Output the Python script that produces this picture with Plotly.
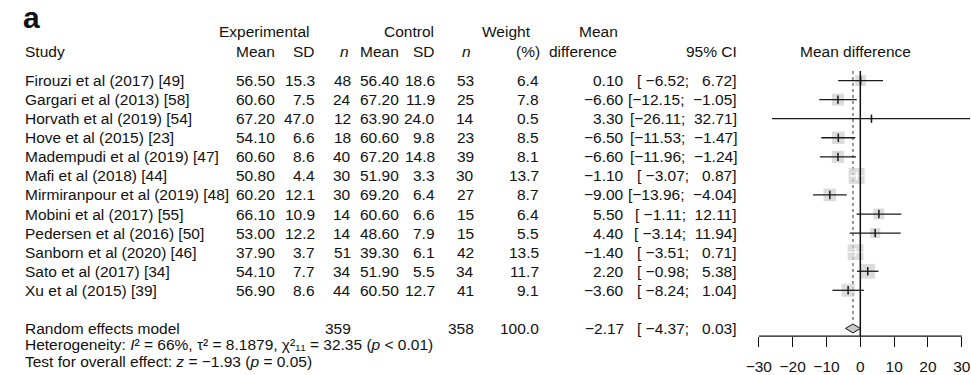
import math
import plotly.graph_objects as go

# ---- study data -----------------------------------------------------------
studies = [
    "Firouzi et al (2017) [49]", "Gargari et al (2013) [58]", "Horvath et al (2019) [54]",
    "Hove et al (2015) [23]", "Madempudi et al (2019) [47]", "Mafi et al (2018) [44]",
    "Mirmiranpour et al (2019) [48]", "Mobini et al (2017) [55]", "Pedersen et al (2016) [50]",
    "Sanborn et al (2020) [46]", "Sato et al (2017) [34]", "Xu et al (2015) [39]",
]
exp_mean = [56.50, 60.60, 67.20, 54.10, 60.60, 50.80, 60.20, 66.10, 53.00, 37.90, 54.10, 56.90]
exp_sd = [15.3, 7.5, 47.0, 6.6, 8.6, 4.4, 12.1, 10.9, 12.2, 3.7, 7.7, 8.6]
exp_n = [48, 24, 12, 18, 40, 30, 30, 14, 14, 51, 34, 44]
ctl_mean = [56.40, 67.20, 63.90, 60.60, 67.20, 51.90, 69.20, 60.60, 48.60, 39.30, 51.90, 60.50]
ctl_sd = [18.6, 11.9, 24.0, 9.8, 14.8, 3.3, 6.4, 6.6, 7.9, 6.1, 5.5, 12.7]
ctl_n = [53, 25, 14, 23, 39, 30, 27, 15, 15, 42, 34, 41]
weight = [6.4, 7.8, 0.5, 8.5, 8.1, 13.7, 8.7, 6.4, 5.5, 13.5, 11.7, 9.1]
mean_diff = [0.10, -6.60, 3.30, -6.50, -6.60, -1.10, -9.00, 5.50, 4.40, -1.40, 2.20, -3.60]
ci_low = [-6.52, -12.15, -26.11, -11.53, -11.96, -3.07, -13.96, -1.11, -3.14, -3.51, -0.98, -8.24]
ci_high = [6.72, -1.05, 32.71, -1.47, -1.24, 0.87, -4.04, 12.11, 11.94, 0.71, 5.38, 1.04]

# pooled (random effects) result
pooled_exp_n = 359
pooled_ctl_n = 358
pooled_weight = 100.0
pooled_md = -2.17
pooled_low = -4.37
pooled_high = 0.03

axis_ticks = [-30, -20, -10, 0, 10, 20, 30]

# ---- geometry -------------------------------------------------------------
W, H = 971, 375
ROW0_PX, ROW_STEP = 81.0, 19.17          # first study row and row pitch (px)
X_ZERO_PX, PX_PER_UNIT = 859.7, 3.433    # forest panel x scale
AXIS_PX = 338.0                          # forest x-axis line (px from top)
FS = 15.5
FONT = "Liberation Sans, Arial, sans-serif"
BOX_K = 4.3                              # square side (px) per sqrt(weight)

y_top = -ROW0_PX / ROW_STEP
y_bot = (H - ROW0_PX) / ROW_STEP
RANDOM_ROW = len(studies) + 1
axis_row = (AXIS_PX - ROW0_PX) / ROW_STEP

x_min = min(axis_ticks)
x_dom0 = (X_ZERO_PX + x_min * PX_PER_UNIT) / W
x_max = (W - X_ZERO_PX) / PX_PER_UNIT


def minus(s):
    return s.replace("-", "\u2212")


def f2(v):
    return minus(f"{v:.2f}")


def ci_text(lo, hi):
    a = f2(lo).rjust(6)
    b = f2(hi).rjust(6)
    return f"[{a}; {b}]"


fig = go.Figure()

# reference line at the random-effects estimate (dotted)
fig.add_trace(go.Scatter(
    x=[pooled_md, pooled_md], y=[-0.5, RANDOM_ROW - 0.3], mode="lines",
    line=dict(color="#555555", width=1.2, dash="dot"), hoverinfo="skip"))

# study squares, area proportional to weight
sizes = [BOX_K * math.sqrt(w) for w in weight]
fig.add_trace(go.Scatter(
    x=mean_diff, y=list(range(len(studies))), mode="markers",
    marker=dict(symbol="square", size=sizes, color="#cdcdcd", line=dict(width=0)),
    hoverinfo="skip"))

# confidence interval lines: white when fully inside the square
blk_x, blk_y, wht_x, wht_y = [], [], [], []
blk_mx, blk_my, wht_mx, wht_my = [], [], [], []
for i, (lo, hi, m, s) in enumerate(zip(ci_low, ci_high, mean_diff, sizes)):
    inside = (hi - lo) * PX_PER_UNIT < s
    if inside:
        wht_x += [lo, hi, None]; wht_y += [i, i, None]
        wht_mx.append(m); wht_my.append(i)
    else:
        blk_x += [lo, hi, None]; blk_y += [i, i, None]
        blk_mx.append(m); blk_my.append(i)

fig.add_trace(go.Scatter(x=blk_x, y=blk_y, mode="lines",
                         line=dict(color="#1a1a1a", width=1.3), hoverinfo="skip"))
fig.add_trace(go.Scatter(x=wht_x, y=wht_y, mode="lines",
                         line=dict(color="white", width=1.3), hoverinfo="skip"))
fig.add_trace(go.Scatter(x=blk_mx, y=blk_my, mode="markers",
                         marker=dict(symbol="line-ns", size=6,
                                     line=dict(color="#1a1a1a", width=1.5)),
                         hoverinfo="skip"))
fig.add_trace(go.Scatter(x=wht_mx, y=wht_my, mode="markers",
                         marker=dict(symbol="line-ns", size=6,
                                     line=dict(color="white", width=1.5)),
                         hoverinfo="skip"))

# line of no effect
fig.add_trace(go.Scatter(
    x=[0, 0], y=[-0.5, axis_row], mode="lines",
    line=dict(color="#111111", width=1.5), hoverinfo="skip"))

# pooled diamond
dh = 4.5 / ROW_STEP
fig.add_trace(go.Scatter(
    x=[pooled_low, pooled_md, pooled_high, pooled_md, pooled_low],
    y=[RANDOM_ROW, RANDOM_ROW - dh, RANDOM_ROW, RANDOM_ROW + dh, RANDOM_ROW],
    mode="lines", fill="toself", fillcolor="#c8c8c8",
    line=dict(color="#111111", width=1), hoverinfo="skip"))

# forest axis baseline between the outer ticks
fig.add_trace(go.Scatter(
    x=[min(axis_ticks), max(axis_ticks)], y=[axis_row, axis_row], mode="lines",
    line=dict(color="#111111", width=1.3), hoverinfo="skip"))

# ---- text columns ---------------------------------------------------------
annotations = []


def text(s, xpx, ypx=None, row=None, anchor="right", size=FS, **kw):
    if row is not None:
        yref, y = "y", row
    else:
        yref, y = "paper", 1 - ypx / H
    annotations.append(dict(
        text=s, x=xpx / W, xref="paper", y=y, yref=yref, xanchor=anchor,
        yanchor="middle", showarrow=False, font=dict(family=FONT, size=size, color="#111111"),
        **kw))


# panel letter
text("<b>a</b>", 8, ypx=18, anchor="left", size=30)

# column headers
H1, H2 = 32, 52
text("Experimental", 302, ypx=H1)
text("Control", 429, ypx=H1)
text("Weight", 528, ypx=H1)
text("Mean", 616, ypx=H1)
text("Study", 10, ypx=H2, anchor="left")
text("Mean", 268, ypx=H2)
text("SD", 308, ypx=H2)
text("<i>n</i>", 343, ypx=H2)
text("Mean", 394, ypx=H2)
text("SD", 430, ypx=H2)
text("<i>n</i>", 467, ypx=H2)
text("(%)", 537, ypx=H2)
text("difference", 615, ypx=H2)
text("95% CI", 737, ypx=H2)
text("Mean difference", 855, ypx=H2, anchor="center")

# study rows
for i, name in enumerate(studies):
    text(name, 10, row=i, anchor="left")
    text(f"{exp_mean[i]:.2f}", 268, row=i)
    text(f"{exp_sd[i]:.1f}", 308, row=i)
    text(str(exp_n[i]), 345, row=i)
    text(f"{ctl_mean[i]:.2f}", 394, row=i)
    text(f"{ctl_sd[i]:.1f}", 430, row=i)
    text(str(ctl_n[i]), 470, row=i)
    text(f"{weight[i]:.1f}", 536, row=i)
    text(f2(mean_diff[i]), 622, row=i)
    text(ci_text(ci_low[i], ci_high[i]), 737, row=i)

# pooled row
text("Random effects model", 10, row=RANDOM_ROW, anchor="left")
text(str(pooled_exp_n), 345, row=RANDOM_ROW)
text(str(pooled_ctl_n), 470, row=RANDOM_ROW)
text(f"{pooled_weight:.1f}", 536, row=RANDOM_ROW)
text(f2(pooled_md), 622, row=RANDOM_ROW)
text(ci_text(pooled_low, pooled_high), 737, row=RANDOM_ROW)

# heterogeneity and overall-effect lines
text("Heterogeneity: <i>I</i>\u00b2 = 66%, \u03c4\u00b2 = 8.1879, "
     "\u03c7\u00b2\u2081\u2081 = 32.35 (<i>p</i> &lt; 0.01)", 10, ypx=346, anchor="left")
text("Test for overall effect: <i>z</i> = \u22121.93 (<i>p</i> = 0.05)", 10, ypx=363, anchor="left")

fig.update_layout(
    width=W, height=H, margin=dict(l=0, r=0, t=0, b=0),
    paper_bgcolor="white", plot_bgcolor="rgba(0,0,0,0)",
    showlegend=False, annotations=annotations,
    xaxis=dict(domain=[x_dom0, 1.0], range=[x_min, x_max], anchor="free",
               position=1 - AXIS_PX / H, showgrid=False, zeroline=False, showline=False,
               tickmode="array", tickvals=axis_ticks,
               ticktext=[minus(str(t)) for t in axis_ticks],
               ticks="outside", ticklen=10, tickwidth=1.3, tickcolor="#111111",
               tickfont=dict(family=FONT, size=FS, color="#111111"),
               ticklabelstandoff=6, ticklabeloverflow="allow", fixedrange=True),
    yaxis=dict(domain=[0, 1], range=[y_bot, y_top], visible=False, fixedrange=True),
)

fig.write_html("out.html")
